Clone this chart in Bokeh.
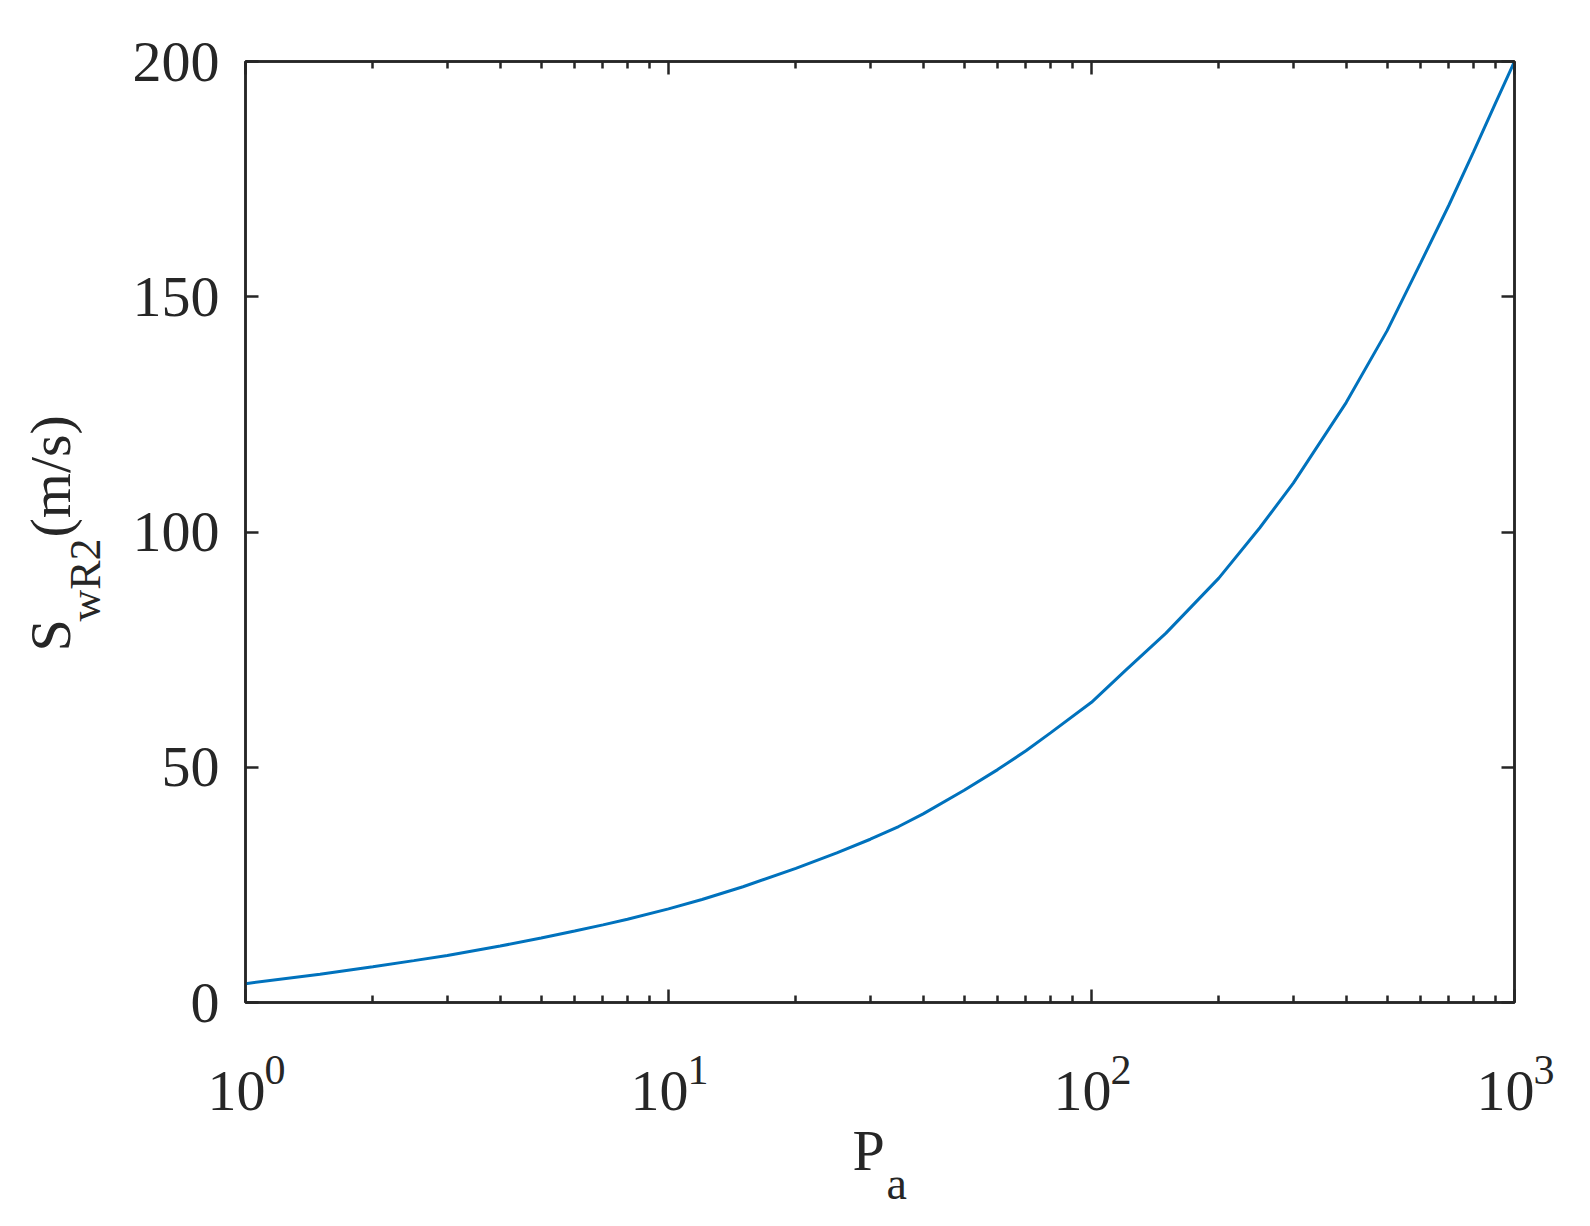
import math
from bokeh.plotting import figure
from bokeh.layouts import column, row
from bokeh.models import Range1d, LogAxis, LinearAxis, FixedTicker, Label
from bokeh.embed import file_html
from bokeh.resources import INLINE

# ---- data ----
pa = [1, 1.5, 2, 2.5, 3, 4, 5, 6, 7, 8, 10, 12, 15, 20, 25, 30, 35, 40, 50, 60, 70, 80,
      100, 120, 150, 200, 250, 300, 400, 500, 600, 700, 800, 900, 1000]
swr2 = [4.0, 6.0, 7.6, 8.9, 10.0, 12.0, 13.7, 15.2, 16.5, 17.7, 19.9, 21.9, 24.6, 28.5, 31.8,
        34.7, 37.4, 40.1, 45.1, 49.5, 53.5, 57.3, 63.8, 70.5, 78.5, 90.2, 100.9, 110.4, 127.5,
        142.8, 157.2, 169.5, 180.8, 191.0, 200.0]

x_ticks = [1, 10, 100, 1000]
x_tick_base = ["10", "10", "10", "10"]
x_tick_exp = ["0", "1", "2", "3"]
x_minor = [m * d for d in (1, 10, 100) for m in range(2, 10)]
y_ticks = [0, 50, 100, 150, 200]
y_tick_labels = ["0", "50", "100", "150", "200"]
x_lo, x_hi = 1, 1000
y_lo, y_hi = 0, 200

FONT = "Liberation Serif"
AXC = "#262626"
TXT = "#262626"
LINE = "#0072BD"
DESC = 0.216            # font descent (em) of Liberation Serif
ASC = 0.891             # font ascent (em)

# ---- page geometry ----
W, H = 1588, 1224
LEFT_W = 122            # strip holding the rotated y title
FL, FT = 245, 61        # frame left / top on the page
FW, FH = 1269, 941      # frame size
FB = FT + FH            # frame bottom on the page
MAIN_W = W - LEFT_W
MAIN_BOTTOM = 34        # room for the lower half of the "0" tick label
MAIN_H = FB + MAIN_BOTTOM
BOT_H = H - MAIN_H

# ---- main plot ----
p = figure(width=MAIN_W, height=MAIN_H, x_axis_type="log",
           x_range=Range1d(x_lo, x_hi), y_range=Range1d(y_lo, y_hi),
           output_backend="svg", toolbar_location=None,
           min_border_left=FL - LEFT_W, min_border_right=MAIN_W - (FL - LEFT_W) - FW,
           min_border_top=FT, min_border_bottom=MAIN_BOTTOM,
           background_fill_color="white", border_fill_color="white")
p.grid.visible = False
p.outline_line_color = AXC
p.outline_line_width = 2.5

p.line(pa, swr2, line_color=LINE, line_width=3)


def style(ax, labels=True):
    ax.axis_line_color = AXC
    ax.axis_line_width = 2.5
    ax.major_tick_line_color = AXC
    ax.major_tick_line_width = 2.5
    ax.minor_tick_line_color = AXC
    ax.minor_tick_line_width = 2.5
    ax.major_tick_in = 13
    ax.major_tick_out = 0
    ax.minor_tick_in = 7
    ax.minor_tick_out = 0
    ax.major_label_text_font = FONT
    ax.major_label_text_color = TXT
    if labels:
        ax.major_label_text_font_size = "58px"
    else:
        ax.major_label_text_font_size = "8px"
        ax.major_label_text_alpha = 0
        ax.major_label_standoff = 0


xt = FixedTicker(ticks=x_ticks, minor_ticks=x_minor)
yt = FixedTicker(ticks=y_ticks, minor_ticks=[])

xb = p.xaxis[0]
xb.ticker = xt
style(xb, labels=False)

yl = p.yaxis[0]
yl.ticker = yt
yl.major_label_overrides = dict(zip(y_ticks, y_tick_labels))
style(yl)
yl.major_label_standoff = 26

xtop = LogAxis(ticker=xt)
style(xtop, labels=False)
p.add_layout(xtop, "above")

yr = LinearAxis(ticker=yt)
style(yr, labels=False)
p.add_layout(yr, "right")


def strip(width, height, top=0, bottom=0, x_range=None, x_axis_type="linear"):
    f = figure(width=width, height=height, x_axis_type=x_axis_type,
               x_range=x_range or Range1d(0, 1), y_range=Range1d(0, 1),
               output_backend="svg", toolbar_location=None,
               x_axis_location=None, y_axis_location=None,
               min_border=0, min_border_left=0, min_border_right=0,
               min_border_top=top, min_border_bottom=bottom,
               background_fill_color="white", border_fill_color="white")
    f.grid.visible = False
    f.outline_line_color = None
    return f


def lab(fig, text, x, y, size, angle=0.0, align="left", x_units="screen", x_offset=0):
    # text_baseline "bottom": the anchor is the descent line of the text
    fig.add_layout(Label(x=x, y=y, x_units=x_units, y_units="screen", text=text,
                         x_offset=x_offset, angle=angle, text_font=FONT,
                         text_font_size=f"{size}px", text_color=TXT,
                         text_align=align, text_baseline="bottom"))


# ---- left strip: y title S_wR2(m/s); its frame spans the main frame's height ----
left = strip(LEFT_W, MAIN_H, top=FT, bottom=MAIN_BOTTOM)
R = math.pi / 2
# (text, baseline x on page, text start y on page, size)
for txt, bx, sy, size in [("S", 70, 651, 58), ("wR2", 100, 621, 44), ("(m/s)", 70, 537, 58)]:
    lab(left, txt, bx + DESC * size, FB - sy, size, angle=R)

# ---- bottom strip: x tick labels 10^n and x title P_a ----
dec = FW / math.log10(x_hi / x_lo)
bx_range = Range1d(x_lo * 10 ** (-FL / dec), x_lo * 10 ** ((W - FL) / dec))
bottom = strip(W, BOT_H, x_range=bx_range, x_axis_type="log")


def ypos(baseline, size):
    return H - (baseline + DESC * size)


EXP = 42
exp_base = max(1068, MAIN_H + ASC * EXP + 1)
for t, b, e in zip(x_ticks, x_tick_base, x_tick_exp):
    lab(bottom, b, t, ypos(1097, 58), 58, align="right", x_units="data", x_offset=20)
    lab(bottom, e, t, ypos(exp_base, EXP), EXP, align="left", x_units="data", x_offset=19)
lab(bottom, "P", 852, ypos(1170, 58), 58)
lab(bottom, "a", 886, ypos(1199, 46), 46)

layout = column(row(left, p), bottom)
open("out.html", "w").write(file_html(layout, INLINE))
